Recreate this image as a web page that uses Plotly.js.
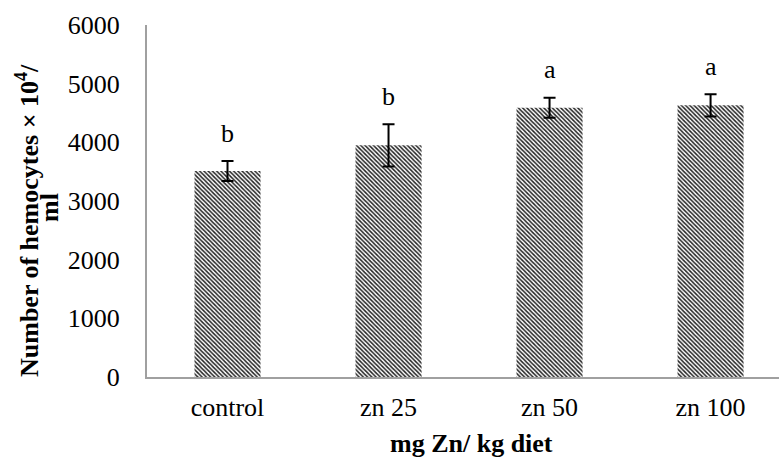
<!DOCTYPE html>
<html>
<head>
<meta charset="utf-8">
<script src="https://cdn.plot.ly/plotly-3.0.1.min.js"></script>
<style>
html,body{margin:0;padding:0;background:#fff;}
#chart{width:779px;height:457px;}
</style>
</head>
<body>
<div id="chart"></div>
<script>
var categories = ["control", "zn 25", "zn 50", "zn 100"];
var meanValues = [3510, 3950, 4590, 4630];
var errorValues = [170, 360, 170, 190];
var letters = ["b", "b", "a", "a"];
var yTickValues = [0, 1000, 2000, 3000, 4000, 5000, 6000];
var xTitle = "mg Zn/ kg diet";
var yTitleLine1 = "Number of hemocytes × 10<sup>4</sup>/";
var yTitleLine2 = "ml";

var FONT = '"Liberation Serif", "Times New Roman", serif';

var barTrace = {
  type: "bar",
  x: categories,
  y: meanValues,
  width: 0.41,
  marker: {
    color: "#ffffff",
    line: {width: 0},
    pattern: {shape: "\\", fgcolor: "#222222", bgcolor: "#ffffff", size: 3, solidity: 0.5}
  },
  error_y: {type: "data", array: errorValues, visible: true, color: "#000000", thickness: 2, width: 6},
  hoverinfo: "none"
};

var annotations = categories.map(function (c, i) {
  return {
    x: c, y: meanValues[i] + errorValues[i], xref: "x", yref: "y",
    text: letters[i], showarrow: false, yanchor: "middle", yshift: 28,
    font: {family: FONT, size: 26, color: "#000"}
  };
});
var boldFont = {family: FONT, size: 26, color: "#000", weight: "bold"};
annotations.push({
  xref: "paper", yref: "paper", x: 0, y: 0.5, xanchor: "center", yanchor: "middle",
  xshift: -120, yshift: -20, textangle: -90, showarrow: false,
  text: yTitleLine1, font: boldFont
});
annotations.push({
  xref: "paper", yref: "paper", x: 0, y: 0.5, xanchor: "center", yanchor: "middle",
  xshift: -98, yshift: -7, textangle: -90, showarrow: false,
  text: yTitleLine2, font: boldFont
});
annotations.push({
  xref: "paper", yref: "paper", x: 0, y: 0, xanchor: "center", yanchor: "middle",
  xshift: 324, yshift: -66, showarrow: false,
  text: xTitle, font: boldFont
});

var layout = {
  width: 779, height: 457,
  margin: {l: 147, r: 0, t: 25, b: 80},
  paper_bgcolor: "#fff", plot_bgcolor: "#fff",
  showlegend: false,
  font: {family: FONT, size: 26, color: "#000"},
  xaxis: {
    type: "category",
    range: [-0.5, 3.425],
    showline: true, linecolor: "#a0a0a0", linewidth: 2,
    showgrid: false, zeroline: false, ticks: "",
    ticklabelstandoff: 6,
    tickfont: {family: FONT, size: 26, color: "#000"}
  },
  yaxis: {
    range: [0, 6000],
    tickvals: yTickValues,
    ticktext: yTickValues.map(String),
    showline: true, linecolor: "#a0a0a0", linewidth: 2,
    showgrid: false, zeroline: false, ticks: "",
    ticklabelstandoff: 20,
    tickfont: {family: FONT, size: 26, color: "#000"}
  },
  annotations: annotations
};

Plotly.newPlot("chart", [barTrace], layout, {displayModeBar: false, staticPlot: true});
</script>
</body>
</html>
